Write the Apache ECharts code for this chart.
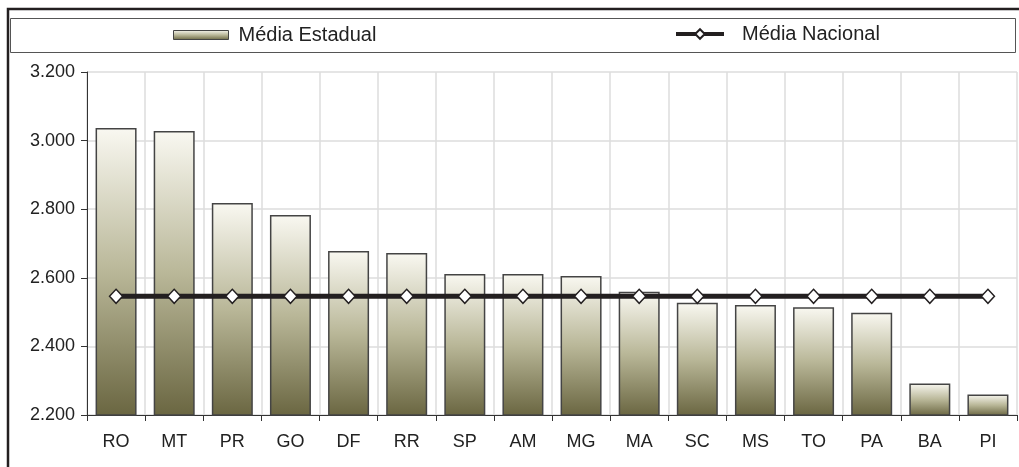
<!DOCTYPE html>
<html>
<head>
<meta charset="utf-8">
<style>
html, body { margin: 0; padding: 0; background: #fff; }
#chart { width: 1019px; height: 467px; }
</style>
<script src="https://cdn.jsdelivr.net/npm/echarts@6/dist/echarts.min.js"></script>
</head>
<body>
<div id="chart"></div>
<script>
// estados (ordem do gráfico)
const estados = ['RO', 'MT', 'PR', 'GO', 'DF', 'RR', 'SP', 'AM', 'MG', 'MA', 'SC', 'MS', 'TO', 'PA', 'BA', 'PI']
// média estadual
const mediaEstadual = [3037, 3028, 2818, 2783, 2678, 2672, 2611, 2611, 2605, 2559, 2527, 2521, 2514, 2498, 2292, 2260]
// média nacional (constante)
const mediaNacional = [2546, 2546, 2546, 2546, 2546, 2546, 2546, 2546, 2546, 2546, 2546, 2546, 2546, 2546, 2546, 2546]
const yTicks = [2200, 2400, 2600, 2800, 3000, 3200]

const font = 'Liberation Sans, Arial, sans-serif'
const barGrad = new echarts.graphic.LinearGradient(0, 0, 0, 1, [
  { offset: 0, color: '#f9f8f1' },
  { offset: 0.5, color: '#b9b798' },
  { offset: 1, color: '#6a6641' }
])

const chart = echarts.init(document.getElementById('chart'))
const option = {
  animation: false,
  backgroundColor: '#fff',
  textStyle: { fontFamily: font },
  graphic: [
    {
      type: 'rect',
      shape: { x: 8, y: 9, width: 1030, height: 480 },
      style: { fill: 'none', stroke: '#231f20', lineWidth: 2.5 },
      z: 0
    },
    {
      type: 'rect',
      shape: { x: 10.5, y: 18.5, width: 1005, height: 34 },
      style: { fill: 'none', stroke: '#555', lineWidth: 1 },
      z: 0
    }
  ],
  legend: [
    {
      data: [{ name: 'Média Estadual', icon: 'rect' }],
      left: 173,
      top: 25,
      padding: 0,
      itemWidth: 55,
      itemHeight: 9,
      itemStyle: { borderColor: '#444', borderWidth: 1 },
      textStyle: { fontSize: 20, color: '#222', fontFamily: font, padding: [0, 0, 0, 5] }
    },
    {
      data: ['Média Nacional'],
      left: 674,
      top: 24,
      padding: 0,
      itemWidth: 48,
      itemHeight: 12,
      lineStyle: { width: 4, color: '#231f20' },
      textStyle: { fontSize: 20, color: '#222', fontFamily: font, padding: [0, 0, 0, 13] }
    }
  ],
  grid: { left: 87, right: 2, top: 72, bottom: 52, containLabel: false },
  xAxis: {
    type: 'category',
    data: estados,
    boundaryGap: true,
    axisLine: { lineStyle: { color: '#333', width: 1 } },
    axisTick: { show: true, alignWithLabel: false, length: 6, lineStyle: { color: '#333' } },
    axisLabel: { fontSize: 18, color: '#222', margin: 18, fontFamily: font },
    splitLine: { show: true, lineStyle: { color: '#dcdcdc', width: 1.5 } }
  },
  yAxis: {
    type: 'value',
    min: yTicks[0],
    max: yTicks[yTicks.length - 1],
    interval: 200,
    axisLine: { show: true, lineStyle: { color: '#333', width: 1 } },
    axisTick: { show: true, length: 6, lineStyle: { color: '#333' } },
    axisLabel: {
      fontSize: 18,
      color: '#222',
      margin: 12,
      fontFamily: font,
      formatter: v => (v / 1000).toFixed(3)
    },
    splitLine: { show: true, lineStyle: { color: '#dcdcdc', width: 1.5 } }
  },
  series: [
    {
      name: 'Média Estadual',
      type: 'bar',
      data: mediaEstadual,
      barWidth: 41,
      itemStyle: { color: barGrad, borderColor: '#444', borderWidth: 1.5 },
      z: 2
    },
    {
      name: 'Média Nacional',
      type: 'line',
      data: mediaNacional,
      symbol: 'diamond',
      symbolSize: [13, 14],
      showAllSymbol: true,
      lineStyle: { color: '#231f20', width: 5 },
      itemStyle: { color: '#fff', borderColor: '#231f20', borderWidth: 1.5 },
      z: 3
    }
  ]
}
chart.setOption(option)
window.addEventListener('resize', () => {
  chart.resize()
})
</script>
</body>
</html>
